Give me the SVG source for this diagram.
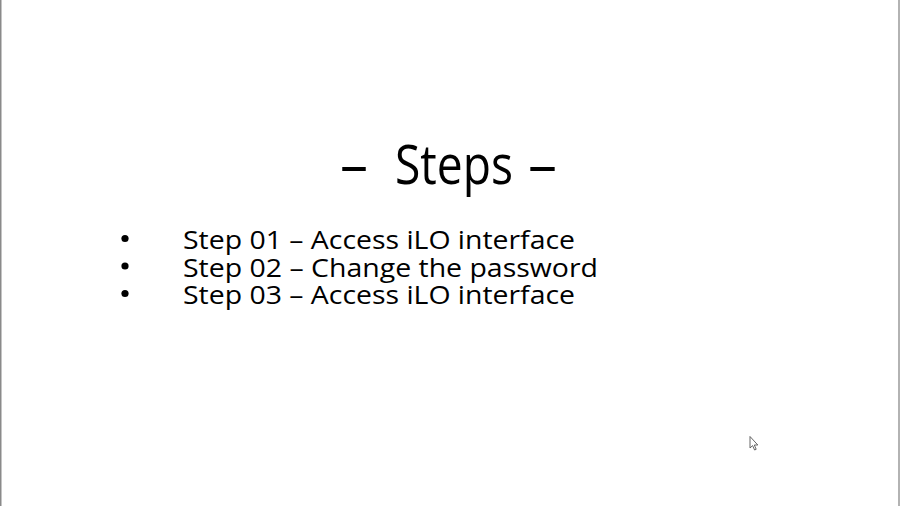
<svg xmlns="http://www.w3.org/2000/svg" width="900" height="506" viewBox="0 0 900 506">
<style>
.t{font-family:"Open Sans","Noto Sans","Liberation Sans",sans-serif;fill:#000}
.title{font-size:54px}
.item{font-size:26px}
</style>
<rect width="900" height="506" fill="#ffffff"/>
<line x1="0.75" y1="0" x2="0.75" y2="506" stroke="#8a8a8a" stroke-width="1.5"/>
<line x1="899" y1="0" x2="899" y2="506" stroke="#9a9a9a" stroke-width="1.5"/>
<g id="title">
<text class="t title" y="184"><tspan x="340" textLength="28" lengthAdjust="spacingAndGlyphs">–</tspan> <tspan x="395" textLength="118" lengthAdjust="spacingAndGlyphs">Steps</tspan> <tspan x="528" textLength="29" lengthAdjust="spacingAndGlyphs">–</tspan></text>
</g>
<g id="bullets">
<circle cx="125" cy="238.5" r="3.6" fill="#000"/>
<circle cx="125" cy="266" r="3.6" fill="#000"/>
<circle cx="125" cy="293.5" r="3.6" fill="#000"/>
<text class="t item" x="183" y="249" textLength="392" lengthAdjust="spacingAndGlyphs">Step 01 – Access iLO interface</text>
<text class="t item" x="183" y="277" textLength="415" lengthAdjust="spacingAndGlyphs">Step 02 – Change the password</text>
<text class="t item" x="183" y="304" textLength="392" lengthAdjust="spacingAndGlyphs">Step 03 – Access iLO interface</text>
</g>
<g id="cursor">
<path d="M750 436.5 L750 448 L752.6 445.6 L754.6 450 L756.2 449.3 L754.3 445 L757.8 445 Z" fill="#ffffff" stroke="#555" stroke-width="0.9" stroke-linejoin="round"/>
</g>
</svg>
